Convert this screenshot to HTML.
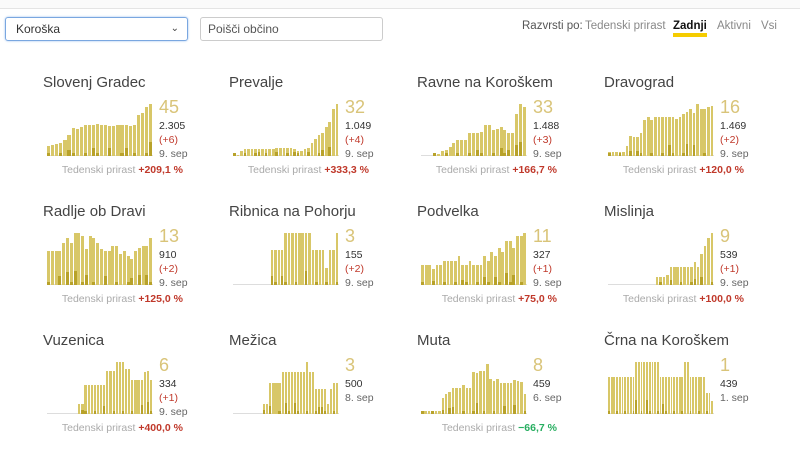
<!DOCTYPE html>
<html><head><meta charset="utf-8"><style>
body{margin:0;width:800px;height:445px;background:#fff;font-family:"Liberation Sans",sans-serif;position:relative;overflow:hidden}
.top{position:absolute;left:0;top:0;width:800px;height:8px;border-bottom:1px solid #e4e4e4;background:#fafafa}
.sel{position:absolute;left:5px;top:17px;border:1px solid #7aa7e0;border-radius:3px;box-shadow:0 0 2px #9cc0f0;font-size:12px;color:#333;line-height:22px;padding-left:10px;box-sizing:border-box;width:183px;height:24px}
.sel span{position:absolute;right:8px;top:0;color:#444;font-size:10px}
.inp{position:absolute;left:200px;top:17px;width:183px;height:24px;border:1px solid #ccc;border-radius:3px;box-sizing:border-box;font-size:12px;color:#555;line-height:22px;padding-left:7px}
.sort{position:absolute;top:20px;font-size:11.5px;color:#888}
.card{position:absolute;width:187px;height:125px}
.t{position:absolute;left:0;top:-9px;font-size:15px;color:#444}
.ch{position:absolute;left:4px;top:21px;width:106px;height:52px}
.b{position:absolute;bottom:0;background:#d8c768}
.d{position:absolute;bottom:0;background:#b8a22a}
.n{position:absolute;left:116px;top:14px;font-size:18px;color:#d9c479}
.v{position:absolute;left:116px;font-size:10.5px;color:#333}
.r{color:#c0392b}
.g{color:#666}
.w{position:absolute;top:81px;left:0;width:140px;text-align:right;font-size:10.5px;color:#aaa;white-space:nowrap}
.w b{color:#c0392b}
.base{position:absolute;bottom:0;left:0;height:1px;background:#ddd}
</style></head><body>
<div class="top"></div>
<div class="sel">Koroška<span>&#8964;</span></div>
<div class="inp">Poišči občino</div>
<div class="sort" style="left:522px;color:#555">Razvrsti po:</div>
<div class="sort" style="left:585px">Tedenski prirast</div>
<div class="sort" style="left:673px;color:#111;font-weight:bold;border-bottom:4px solid #f5cc00;line-height:13px">Zadnji</div>
<div class="sort" style="left:717px">Aktivni</div>
<div class="sort" style="left:761px">Vsi</div>
<div id="root"></div>
<script>
var C=[
["Slovenj Gradec","45","2.305","(+6)","9. sep","+209,1 %",0,[.2,.22,.24,.25,.3,.4,.53,.52,.55,.6,.6,.6,.62,.6,.6,.58,.58,.6,.6,.6,.58,.6,.78,.82,.95,1]],
["Prevalje","32","1.049","(+4)","9. sep","+333,3 %",0,[.02,.02,.1,.13,.13,.13,.13,.13,.13,.13,.13,.13,.16,.16,.16,.16,.16,.13,.1,.1,.13,.16,.26,.33,.4,.45,.55,.65,.9,1]],
["Ravne na Koroškem","33","1.488","(+3)","9. sep","+166,7 %",0,[0,0,0,.02,.04,.1,.12,.18,.25,.3,.3,.3,.45,.45,.45,.47,.6,.6,.5,.52,.55,.5,.45,.45,.8,1,.95]],
["Dravograd","16","1.469","(+2)","9. sep","+120,0 %",0,[.07,.07,.07,.07,.07,.2,.38,.37,.37,.45,.7,.75,.7,.76,.76,.76,.76,.76,.76,.72,.76,.8,.85,.9,.82,1,.9,.9,.95,.96]],
["Radlje ob Dravi","13","910","(+2)","9. sep","+125,0 %",1,[.65,.65,.65,.65,.8,.9,.8,1,1,.95,.7,.95,.9,.8,.7,.65,.65,.75,.75,.6,.65,.55,.5,.65,.72,.75,.75,.9]],
["Ribnica na Pohorju","3","155","(+2)","9. sep","",1,[0,0,0,0,0,0,0,0,0,0,0,.67,.67,.67,.67,1,1,1,1,1,1,1,1,.67,.67,.67,.67,.33,.67,.67,1]],
["Podvelka","11","327","(+1)","9. sep","+75,0 %",1,[.38,.38,.38,.3,.38,.38,.47,.47,.47,.47,.55,.38,.38,.47,.38,.38,.38,.55,.47,.63,.55,.72,.63,.85,.85,.72,.95,.95,1]],
["Mislinja","9","539","(+1)","9. sep","+100,0 %",1,[0,0,0,0,0,0,0,0,0,0,0,0,0,0,.15,.15,.15,.2,.35,.35,.35,.35,.35,.35,.35,.45,.35,.6,.75,.9,1]],
["Vuzenica","6","334","(+1)","9. sep","+400,0 %",2,[0,0,0,0,0,0,0,0,0,0,.2,.2,.55,.55,.55,.55,.55,.55,.55,.83,.83,.83,1,1,1,.86,.86,.66,.66,.66,.66,.8,.83,.66]],
["Mežica","3","500","","8. sep","",2,[0,0,0,0,0,0,0,0,0,0,.2,.2,.6,.6,.6,.6,.8,.8,.8,.8,.8,.8,.8,.8,1,.8,.8,.48,.48,.48,.48,.2,.48,.6,.6]],
["Muta","8","459","","6. sep","−66,7 %",2,[.06,.06,.06,.06,.06,.06,.3,.38,.42,.5,.5,.5,.55,.5,.5,.8,.78,.82,.83,.97,.67,.64,.67,.6,.6,.6,.6,.65,.64,.62,.38]],
["Črna na Koroškem","1","439","","1. sep","",2,[.72,.72,.72,.72,.72,.72,.72,.72,.72,.72,1,1,1,1,1,1,1,1,1,.72,.72,.72,.72,.72,.72,.72,.72,.72,1,1,.72,.72,.72,.72,.72,.72,.4,.4,.25]]
];
var xs=[43,229,417,604],ys=[83,212,341],h="";
var dk=[[5,11,15,19,25,26],[7,12,17,21,25,27],[14,20,22,24,25],[6,8,17,22,24],[3,5,7,10,15,22,24,26],[11,14,21],[3,11,17,20,23,25],[18,25,27],[9,11,18,30,32],[10,12,17,20,28,29],[6,8,9,16,24,27],[10,14,20]];
C.forEach(function(c,i){
 var x=xs[i%4],y=ys[Math.floor(i/4)],a=c[7],n=a.length,bw=106/n,bars="";
 a.forEach(function(v,j){if(v>0){bars+='<div class="b" style="left:'+(j*bw).toFixed(1)+'px;width:'+(bw-0.8).toFixed(1)+'px;height:'+(v*52).toFixed(1)+'px"></div>';}
  if(v>0&&dk[i].indexOf(j)>=0){bars+='<div class="d" style="left:'+(j*bw).toFixed(1)+'px;width:'+(bw-0.8).toFixed(1)+'px;height:'+(Math.min(v*52,Math.max(4,v*14))).toFixed(1)+'px"></div>';}
  else if(v>0&&j%3==0){bars+='<div class="d" style="left:'+(j*bw).toFixed(1)+'px;width:'+(bw-0.8).toFixed(1)+'px;height:3px"></div>';}});
 var lines='<div class="v" style="top:37px">'+c[2]+'</div>';
 var t=51;
 if(c[3]){lines+='<div class="v r" style="top:'+t+'px">'+c[3]+'</div>';t+=14;}
 lines+='<div class="v g" style="top:'+t+'px">'+c[4]+'</div>';
 var w=c[5]?'<div class="w">Tedenski prirast <b style="'+(c[5][0]=="−"?"color:#27ae60":"")+'">'+c[5]+'</b></div>':"";
 h+='<div class="card" style="left:'+x+'px;top:'+y+'px"><div class="t">'+c[0]+'</div><div class="ch"><div class="base" style="width:106px"></div>'+bars+'</div><div class="n">'+c[1]+'</div>'+lines+w+'</div>';
});
document.getElementById("root").innerHTML=h;
</script>
</body></html>
